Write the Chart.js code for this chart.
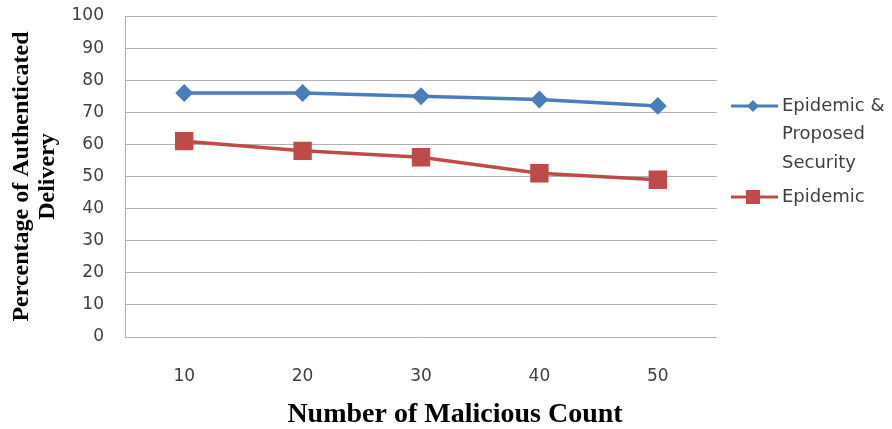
<!DOCTYPE html>
<html>
<head>
<meta charset="utf-8">
<script src="https://cdn.jsdelivr.net/npm/chart.js@4.4.1/dist/chart.umd.min.js"></script>
<style>
  html, body { margin: 0; padding: 0; background: #ffffff; }
  #wrap { width: 892px; height: 429px; }
</style>
</head>
<body>
<div id="wrap"><canvas id="c" width="892" height="429"></canvas></div>
<script>
// Malicious node counts on the x axis
const maliciousCounts = ['10', '20', '30', '40', '50'];
// Percentage of authenticated delivery per scheme
const epidemicProposed = [76, 76, 75, 74, 72];
const epidemicOnly = [61, 58, 56, 51, 49];
// Legend entries (multi-line text)
const seriesNames = [['Epidemic &', 'Proposed', 'Security'], ['Epidemic']];
const xAxisTitle = 'Number of Malicious Count';
const yAxisTitle = ['Percentage of Authenticated', 'Delivery'];

const BLUE = '#4a7ebb';
const RED = '#be4b48';
const GRID = '#b2b2b2';
const TICK = '#404040';
const SANS = 'DejaVu Sans';

// Legend at the right of the plot with wrapped labels, plus the x axis title
const sideLegend = {
  id: 'sideLegend',
  afterDraw(chart) {
    const ctx = chart.ctx;
    const items = [
      { y: 106, color: BLUE, shape: 'diamond', text: seriesNames[0] },
      { y: 197, color: RED, shape: 'square', text: seriesNames[1] }
    ];
    ctx.save();
    items.forEach(it => {
      ctx.strokeStyle = it.color;
      ctx.lineWidth = 3;
      ctx.beginPath();
      ctx.moveTo(731, it.y);
      ctx.lineTo(778, it.y);
      ctx.stroke();
      ctx.fillStyle = it.color;
      ctx.beginPath();
      if (it.shape === 'diamond') {
        ctx.moveTo(753, it.y - 6);
        ctx.lineTo(759, it.y);
        ctx.lineTo(753, it.y + 6);
        ctx.lineTo(747, it.y);
        ctx.closePath();
      } else {
        ctx.rect(746, it.y - 7, 14, 14);
      }
      ctx.fill();
      ctx.fillStyle = TICK;
      ctx.font = '18px "' + SANS + '"';
      ctx.textBaseline = 'middle';
      ctx.textAlign = 'left';
      it.text.forEach((line, i) => ctx.fillText(line, 782, it.y + i * 28.5));
    });
    // x axis title
    ctx.fillStyle = '#000000';
    ctx.font = 'bold 28px "Liberation Serif"';
    ctx.textAlign = 'center';
    ctx.textBaseline = 'alphabetic';
    ctx.fillText(xAxisTitle, 455, 422);
    ctx.restore();
  }
};

new Chart(document.getElementById('c'), {
  type: 'line',
  data: {
    labels: maliciousCounts,
    datasets: [
      {
        label: 'Epidemic & Proposed Security',
        data: epidemicProposed,
        borderColor: BLUE,
        backgroundColor: BLUE,
        borderWidth: 3.5,
        pointStyle: 'rectRot',
        pointRadius: 6.5,
        pointHoverRadius: 6.5,
        tension: 0
      },
      {
        label: 'Epidemic',
        data: epidemicOnly,
        borderColor: RED,
        backgroundColor: RED,
        borderWidth: 3.5,
        pointStyle: 'rect',
        pointRadius: 10.5,
        pointHoverRadius: 10.5,
        tension: 0
      }
    ]
  },
  options: {
    responsive: false,
    animation: false,
    devicePixelRatio: 1,
    layout: { padding: { left: 0, right: 175, top: 16, bottom: 0 } },
    plugins: {
      legend: { display: false },
      tooltip: { enabled: false }
    },
    scales: {
      x: {
        offset: true,
        grid: { display: false, drawTicks: false },
        border: { display: false },
        ticks: { color: TICK, font: { family: SANS, size: 17 }, padding: 29 },
        afterFit(scale) { scale.height = 92; }
      },
      y: {
        min: 0,
        max: 100,
        ticks: { stepSize: 10, color: TICK, font: { family: SANS, size: 17 }, padding: 21 },
        grid: { color: GRID, lineWidth: 1, drawTicks: false },
        border: { display: true, color: GRID, width: 1 },
        title: {
          display: true,
          text: yAxisTitle,
          color: '#000000',
          font: { family: 'Liberation Serif', size: 24, weight: 'bold', lineHeight: 1.08 },
          padding: { top: 9, bottom: 0 }
        },
        afterFit(scale) {
          scale.width = 125;
          scale.paddingTop = 0;
          scale.paddingBottom = 0;
        }
      }
    }
  },
  plugins: [sideLegend]
});
</script>
</body>
</html>
